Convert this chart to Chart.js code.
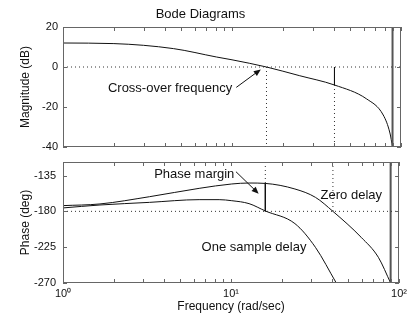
<!DOCTYPE html>
<html>
<head>
<meta charset="utf-8">
<script src="https://cdn.jsdelivr.net/npm/chart.js@4.4.0/dist/chart.umd.min.js"></script>
<style>
html, body { margin: 0; padding: 0; background: #fff; }
#wrap { position: relative; width: 411px; height: 322px; }
#wrap canvas { position: absolute; left: 0; top: 0; }
</style>
</head>
<body>
<div id="wrap">
<canvas id="magChart" width="411" height="322"></canvas>
<canvas id="phaseChart" width="411" height="322"></canvas>
</div>
<script>
// values, frequency in rad/sec
const magFreq = [1, 2, 4.5, 8.1, 10, 16.0, 25, 40.4, 62.7, 78.5, 86, 89.1];
const magDb = [12, 11.7, 9.2, 5.0, 3.6, 0, -4.3, -9, -16, -24, -33, -40];

const zeroFreq = [1, 1.66, 3.27, 6.46, 10.1, 12.8, 16.0, 24, 31.8, 40.4, 59.5, 75.3, 89.1];
const zeroPhase = [-172.8, -170.7, -161.6, -151.1, -145.6, -144.4, -144.9, -151.9, -162.4, -180, -212.6, -237.7, -270];

const oneFreq = [1, 1.66, 3.27, 6.46, 8.5, 10.1, 12.8, 16.0, 24, 31.8, 42.3];
const onePhase = [-175.7, -172, -168.7, -165.3, -165.3, -166.6, -170.3, -179.5, -195.4, -225.2, -270];

// margins
const crossFreq = 16.0;       // 0 dB crossing
const phaseAtCross = -144.9;
const phaseCrossFreq = 40.4;  // -180 deg crossing (zero delay)
const gainAtPhaseCross = -9;
const nyquistFreq = 89.1;

// axes
const freqTicks = [1, 10, 100];
const freqTickLabels = ['10\u2070', '10\u00b9', '10\u00b2'];
const magTicks = [20, 0, -20, -40];
const phaseTicks = [-135, -180, -225, -270];

const ink = '#111';
const dotInk = '#333';
const boxInk = '#666';
const fontFamily = "'Liberation Sans', Arial, Helvetica, sans-serif";

function pts(xs, ys) {
    return xs.map((x, i) => ({ x: x, y: ys[i] }));
}

function curve(xs, ys) {
    return {
        data: pts(xs, ys),
        borderColor: ink,
        borderWidth: 1,
        pointRadius: 0,
        cubicInterpolationMode: 'monotone',
        fill: false
    };
}

function segment(x0, y0, x1, y1, dotted, width, color) {
    return {
        data: [{ x: x0, y: y0 }, { x: x1, y: y1 }],
        borderColor: color || (dotted ? dotInk : ink),
        borderWidth: width || 1,
        borderDash: dotted ? [1, 3] : [],
        pointRadius: 0,
        fill: false
    };
}

// minor ticks for the log axis
const minorTicks = [];
for (let d = 1; d < 100; d *= 10) {
    for (let k = 2; k <= 9; k++) minorTicks.push(k * d);
}

function drawArrow(ctx, x0, y0, x1, y1) {
    const ang = Math.atan2(y1 - y0, x1 - x0);
    const len = 7, half = 3;
    ctx.beginPath();
    ctx.moveTo(x0, y0);
    ctx.lineTo(x1 - Math.cos(ang) * len * 0.8, y1 - Math.sin(ang) * len * 0.8);
    ctx.stroke();
    ctx.beginPath();
    ctx.moveTo(x1, y1);
    ctx.lineTo(x1 - Math.cos(ang) * len + Math.sin(ang) * half, y1 - Math.sin(ang) * len - Math.cos(ang) * half);
    ctx.lineTo(x1 - Math.cos(ang) * len - Math.sin(ang) * half, y1 - Math.sin(ang) * len + Math.cos(ang) * half);
    ctx.closePath();
    ctx.fill();
}

// box, inward ticks and text notes (MATLAB look)
const framePlugin = {
    id: 'frame',
    afterDatasetsDraw(chart, args, opts) {
        const { ctx, chartArea: a, scales } = chart;
        const xs = scales.x, ys = scales.y;
        const tl = 4;
        ctx.save();
        ctx.strokeStyle = boxInk;
        ctx.lineWidth = 1;
        ctx.strokeRect(Math.round(a.left) + 0.5, Math.round(a.top) + 0.5,
            Math.round(a.right - a.left) - 1, Math.round(a.bottom - a.top) - 1);

        ctx.beginPath();
        freqTicks.concat(minorTicks).forEach(v => {
            const px = Math.round(xs.getPixelForValue(v)) + 0.5;
            ctx.moveTo(px, a.top); ctx.lineTo(px, a.top + tl);
            ctx.moveTo(px, a.bottom); ctx.lineTo(px, a.bottom - tl);
        });
        ys.ticks.forEach(t => {
            const py = Math.round(ys.getPixelForValue(t.value)) + 0.5;
            ctx.moveTo(a.left, py); ctx.lineTo(a.left + tl, py);
            ctx.moveTo(a.right, py); ctx.lineTo(a.right - tl, py);
        });
        ctx.stroke();

        ctx.fillStyle = ink;
        ctx.strokeStyle = ink;
        ctx.font = '13px ' + fontFamily;
        ctx.textAlign = 'center';
        ctx.textBaseline = 'middle';
        (opts.notes || []).forEach(n => {
            ctx.fillText(n.text, xs.getPixelForValue(n.x), ys.getPixelForValue(n.y));
        });
        (opts.arrows || []).forEach(ar => {
            drawArrow(ctx, xs.getPixelForValue(ar.x0), ys.getPixelForValue(ar.y0),
                xs.getPixelForValue(ar.x1), ys.getPixelForValue(ar.y1));
        });
        ctx.restore();
    }
};

function yScale(min, max, ticks, title, labelPad) {
    return {
        type: 'linear',
        min: min,
        max: max,
        afterBuildTicks: s => { s.ticks = ticks.map(v => ({ value: v })); },
        afterFit: s => { s.width = 63; },
        grid: { display: false, drawTicks: false },
        border: { display: false },
        ticks: { color: ink, padding: labelPad, font: { family: fontFamily, size: 11 } },
        title: {
            display: true,
            text: title,
            color: ink,
            padding: { top: 18, bottom: 0 },
            font: { family: fontFamily, size: 12 }
        }
    };
}

function xScale(show) {
    return {
        type: 'logarithmic',
        min: 1,
        max: 100,
        display: show,
        afterBuildTicks: s => { s.ticks = freqTicks.map(v => ({ value: v })); },
        afterFit: s => { if (show) s.height = 39; },
        grid: { display: false, drawTicks: false },
        border: { display: false },
        ticks: {
            color: ink,
            padding: 4,
            maxRotation: 0,
            autoSkip: false,
            font: { family: fontFamily, size: 11 },
            callback: (v, i) => freqTickLabels[i]
        },
        title: {
            display: show,
            text: 'Frequency (rad/sec)',
            color: ink,
            padding: { top: 0, bottom: 8 },
            font: { family: fontFamily, size: 12 }
        }
    };
}

new Chart(document.getElementById('magChart').getContext('2d'), {
    type: 'line',
    data: {
        datasets: [
            segment(1, 0, 100, 0, true),
            segment(crossFreq, 0, crossFreq, -40, true),
            segment(phaseCrossFreq, gainAtPhaseCross, phaseCrossFreq, -40, true),
            segment(phaseCrossFreq, 0, phaseCrossFreq, gainAtPhaseCross, false),
            segment(nyquistFreq, -40, nyquistFreq, 20, false, 2, '#555'),
            curve(magFreq, magDb)
        ]
    },
    options: {
        responsive: false,
        animation: false,
        events: [],
        layout: { padding: { left: 0, right: 10, top: 0, bottom: 175 } },
        plugins: {
            legend: { display: false },
            tooltip: { enabled: false },
            title: {
                display: true,
                text: 'Bode Diagrams',
                color: ink,
                padding: { top: 8, bottom: 6 },
                font: { family: fontFamily, size: 13, weight: 'normal', lineHeight: 1 }
            },
            frame: {
                notes: [{ text: 'Cross-over frequency', x: 4.3, y: -10.7 }],
                arrows: [{ x0: 10.6, y0: -10.2, x1: 14.8, y1: -1.2 }]
            }
        },
        scales: {
            x: xScale(false),
            y: yScale(-40, 20, magTicks, 'Magnitude (dB)', 5)
        }
    },
    plugins: [framePlugin]
});

new Chart(document.getElementById('phaseChart').getContext('2d'), {
    type: 'line',
    data: {
        datasets: [
            segment(1, -180, 100, -180, true),
            segment(crossFreq, -118, crossFreq, phaseAtCross, true),
            segment(phaseCrossFreq, -118, phaseCrossFreq, -180, true),
            segment(crossFreq, phaseAtCross, crossFreq, -180, false),
            segment(nyquistFreq, -270, nyquistFreq, -118, false, 2, '#555'),
            curve(zeroFreq, zeroPhase),
            curve(oneFreq, onePhase)
        ]
    },
    options: {
        responsive: false,
        animation: false,
        events: [],
        layout: { padding: { left: 0, right: 10, top: 162, bottom: 0 } },
        plugins: {
            legend: { display: false },
            tooltip: { enabled: false },
            frame: {
                notes: [
                    { text: 'Phase margin', x: 6.04, y: -134 },
                    { text: 'Zero delay', x: 52, y: -160.3 },
                    { text: 'One sample delay', x: 13.7, y: -225.5 }
                ],
                arrows: [{ x0: 10.7, y0: -130.2, x1: 14.6, y1: -157.8 }]
            }
        },
        scales: {
            x: xScale(true),
            y: yScale(-270, -118, phaseTicks, 'Phase (deg)', 7)
        }
    },
    plugins: [framePlugin]
});
</script>
</body>
</html>
